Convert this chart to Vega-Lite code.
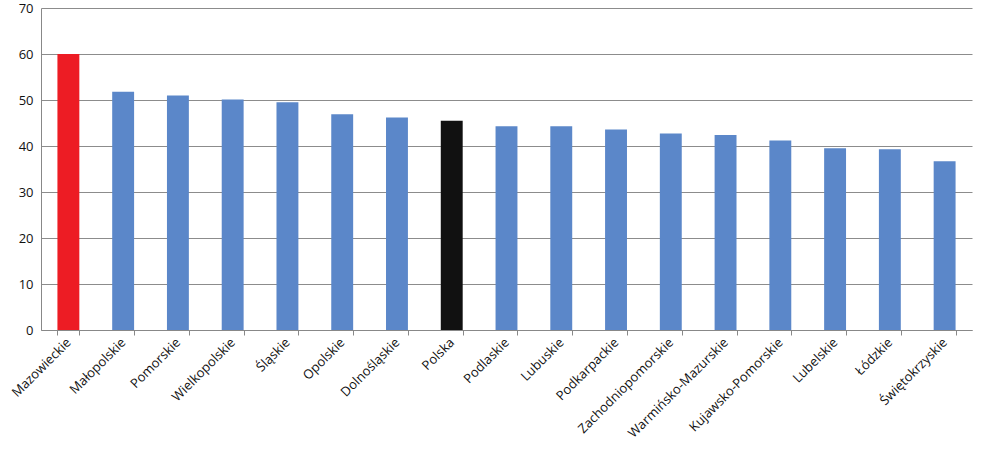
{
  "$schema": "https://vega.github.io/schema/vega-lite/v6.json",
  "width": 931,
  "height": 322,
  "autosize": {"type": "none"},
  "padding": {"left": 41, "top": 8, "right": 18, "bottom": 124},
  "background": "white",
  "config": {"view": {"stroke": null}, "font": "Open Sans"},
  "data": {
    "values": [
      {"region": "Mazowieckie", "value": 60.0, "type": "max"},
      {"region": "Małopolskie", "value": 51.8, "type": "reg"},
      {"region": "Pomorskie", "value": 51.0, "type": "reg"},
      {"region": "Wielkopolskie", "value": 50.1, "type": "reg"},
      {"region": "Śląskie", "value": 49.5, "type": "reg"},
      {"region": "Opolskie", "value": 46.9, "type": "reg"},
      {"region": "Dolnośląskie", "value": 46.2, "type": "reg"},
      {"region": "Polska", "value": 45.5, "type": "pl"},
      {"region": "Podlaskie", "value": 44.3, "type": "reg"},
      {"region": "Lubuskie", "value": 44.3, "type": "reg"},
      {"region": "Podkarpackie", "value": 43.6, "type": "reg"},
      {"region": "Zachodniopomorskie", "value": 42.7, "type": "reg"},
      {"region": "Warmińsko-Mazurskie", "value": 42.4, "type": "reg"},
      {"region": "Kujawsko-Pomorskie", "value": 41.2, "type": "reg"},
      {"region": "Lubelskie", "value": 39.5, "type": "reg"},
      {"region": "Łódzkie", "value": 39.3, "type": "reg"},
      {"region": "Świętokrzyskie", "value": 36.7, "type": "reg"}
    ]
  },
  "mark": {"type": "bar"},
  "encoding": {
    "x": {
      "field": "region", "type": "nominal", "sort": null,
      "scale": {"paddingInner": 0.6, "paddingOuter": 0.3},
      "axis": {
        "title": null, "labelAngle": -45, "labelAlign": "right", "labelBaseline": "middle",
        "labelFontSize": 13, "labelColor": "#111111", "labelPadding": 5,
        "tickBand": "extent", "tickColor": "#888888", "tickSize": 5,
        "domainColor": "#888888", "labelOverlap": false
      }
    },
    "y": {
      "field": "value", "type": "quantitative",
      "scale": {"domain": [0, 70], "nice": false},
      "axis": {
        "title": null, "values": [0,10,20,30,40,50,60,70], "ticks": false,
        "labelFontSize": 13, "labelColor": "#111111", "labelPadding": 8,
        "gridColor": "#8c8c8c", "gridWidth": 1, "domainColor": "#888888"
      }
    },
    "color": {
      "field": "type", "type": "nominal", "legend": null,
      "scale": {"domain": ["max", "reg", "pl"], "range": ["#ED1C24", "#5B87C9", "#111111"]}
    }
  }
}
